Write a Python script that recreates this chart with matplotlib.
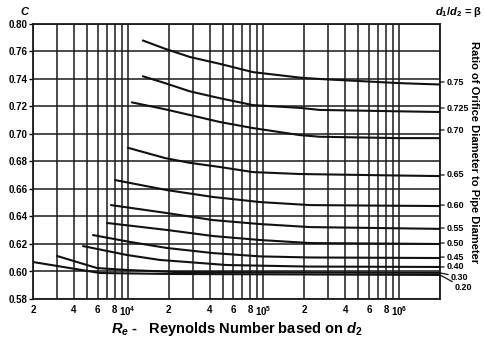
import matplotlib
matplotlib.use("Agg")
import matplotlib.pyplot as plt
from matplotlib.ticker import FixedLocator, FixedFormatter, LogLocator, NullFormatter

plt.rcParams['font.family'] = ['Liberation Sans', 'DejaVu Sans']
plt.rcParams['font.weight'] = 'bold'
plt.rcParams['mathtext.fontset'] = 'custom'
plt.rcParams['mathtext.rm'] = 'Liberation Sans:bold'
plt.rcParams['mathtext.it'] = 'Liberation Sans:bold:italic'
plt.rcParams['mathtext.bf'] = 'Liberation Sans:bold'

# ---- data ----
betas = ['0.75', '0.725', '0.70', '0.65', '0.60', '0.55', '0.50', '0.45', '0.40', '0.30', '0.20']

re_075 = [12900, 18800, 28700, 47800, 83600, 185600, 260600, 1.0e6, 2.0e6]
c_075 = [0.768, 0.762, 0.756, 0.751, 0.745, 0.741, 0.740, 0.737, 0.736]

re_0725 = [12900, 18800, 28700, 47800, 83600, 185600, 260600, 1.0e6, 2.0e6]
c_0725 = [0.742, 0.737, 0.731, 0.726, 0.721, 0.719, 0.7175, 0.7165, 0.716]

re_070 = [10700, 18800, 28700, 47800, 83600, 185600, 260600, 1.0e6, 2.0e6]
c_070 = [0.723, 0.718, 0.7138, 0.7087, 0.7043, 0.6992, 0.698, 0.697, 0.697]

re_065 = [10000, 18800, 28700, 47800, 83600, 185600, 1.0e6, 2.0e6]
c_065 = [0.690, 0.6825, 0.679, 0.676, 0.6723, 0.6709, 0.6698, 0.6694]

re_060 = [8040, 19430, 42420, 94150, 219900, 1.0e6, 2.0e6]
c_060 = [0.6665, 0.6592, 0.6542, 0.6505, 0.6483, 0.6478, 0.6476]

re_055 = [7510, 19430, 42420, 94150, 219900, 2.0e6]
c_055 = [0.6483, 0.6425, 0.6374, 0.6345, 0.6323, 0.631]

re_050 = [7020, 19430, 42420, 94150, 219900, 2.0e6]
c_050 = [0.6353, 0.6302, 0.6258, 0.6229, 0.6207, 0.620]

re_045 = [5536, 10370, 19430, 42420, 94150, 219900, 2.0e6]
c_045 = [0.6265, 0.6215, 0.6171, 0.6134, 0.611, 0.6102, 0.6098]

re_040 = [4673, 9856, 17250, 53790, 209000, 2.0e6]
c_040 = [0.6185, 0.612, 0.6084, 0.6047, 0.6036, 0.6033]

re_030 = [3006, 5930, 9856, 23020, 2.0e6]
c_030 = [0.6113, 0.6025, 0.6011, 0.5996, 0.599]

re_020 = [2000, 6234, 20450, 2.0e6]
c_020 = [0.6069, 0.5989, 0.5982, 0.5975]

curves = [(re_075, c_075), (re_0725, c_0725), (re_070, c_070), (re_065, c_065),
          (re_060, c_060), (re_055, c_055), (re_050, c_050), (re_045, c_045),
          (re_040, c_040), (re_030, c_030), (re_020, c_020)]

# right-hand beta label heights (C units)
label_c = [0.7378, 0.7189, 0.7029, 0.6702, 0.6483, 0.6316, 0.6207, 0.6105, 0.6033, 0.596, 0.588]
label_slant = [False] * 9 + [True, True]
label_x = [1.017] * 9 + [1.027, 1.037]

y_ticks = [0.58, 0.60, 0.62, 0.64, 0.66, 0.68, 0.70, 0.72, 0.74, 0.76, 0.78]
y_ticklabels = ['0.58', '0.60', '0.62', '0.64', '0.66', '0.68', '0.70', '0.72', '0.74', '0.76', '0.80']

x_ticks = [2e3, 4e3, 6e3, 8e3, 1e4, 2e4, 4e4, 6e4, 8e4, 1e5, 2e5, 4e5, 6e5, 8e5, 1e6]
x_ticklabels = ['2', '4', '6', '8', '10$^4$', '2', '4', '6', '8', '10$^5$',
                '2', '4', '6', '8', '10$^6$']

# ---- figure ----
fig = plt.figure(figsize=(4.84, 3.41), dpi=100)
ax = fig.add_axes([33 / 484, 1 - 299 / 341, 407 / 484, 275 / 341])

ax.set_xscale('log')
ax.set_xlim(2e3, 2e6)
ax.set_ylim(0.58, 0.78)

ax.xaxis.set_minor_locator(LogLocator(base=10, subs=range(2, 10), numticks=20))
ax.xaxis.set_minor_formatter(NullFormatter())
ax.xaxis.set_major_locator(FixedLocator(x_ticks))
ax.xaxis.set_major_formatter(FixedFormatter(x_ticklabels))
ax.yaxis.set_major_locator(FixedLocator(y_ticks))
ax.yaxis.set_major_formatter(FixedFormatter(y_ticklabels))

ax.grid(True, which='both', axis='x', color='#1a1a1a', lw=1.1)
ax.grid(True, which='major', axis='y', color='#1a1a1a', lw=1.1)
ax.set_axisbelow(True)

ax.tick_params(axis='x', which='both', length=0, pad=4, labelsize=7)
ax.tick_params(axis='y', which='major', length=3, width=1, pad=1, labelsize=7, direction='out')
for lab in ax.get_xticklabels() + ax.get_yticklabels():
    lab.set_fontweight('bold')
for s in ax.spines.values():
    s.set_color('#1a1a1a')
    s.set_linewidth(1.3)

for (re, c) in curves:
    ax.plot(re, c, color='#111111', lw=1.5, solid_capstyle='round', zorder=3)

for b, (re, c), lc, sl, lx in zip(betas, curves, label_c, label_slant, label_x):
    start_c = c[-1] if sl else lc
    ax.annotate(b, xy=(1.0, start_c), xycoords=('axes fraction', 'data'),
                xytext=(lx, lc), textcoords=('axes fraction', 'data'),
                ha='left', va='center', fontsize=6.5, fontweight='bold',
                arrowprops=dict(arrowstyle='-', color='#111111', lw=0.9,
                                shrinkA=0, shrinkB=0),
                annotation_clip=False)

ax.set_xlabel(r'$R_e$ -   Reynolds Number based on $d_2$', fontsize=10.5,
              fontweight='bold', labelpad=1)
fig.text(25 / 484, 1 - 11 / 341, r'$C$', fontsize=8, ha='center', va='center')
fig.text(482 / 484, 1 - 12 / 341, r'$d_1$/$d_2$ = β', fontsize=8, fontweight='bold',
         ha='right', va='center')
fig.text(474 / 484, 1 - 152 / 341, 'Ratio of Orifice Diameter to Pipe Diameter',
         rotation=270, fontsize=8, fontweight='bold', ha='center', va='center')

fig.savefig('out.png', dpi=100)
